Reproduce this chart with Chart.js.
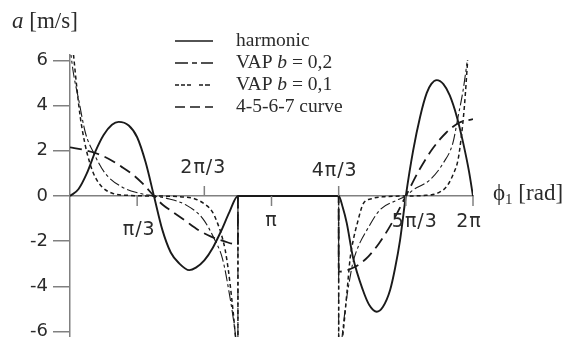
<!doctype html>
<html>

<head>
    <title>Cam acceleration</title>
    <script src="https://cdn.jsdelivr.net/npm/chart.js@4.4.0/dist/chart.umd.min.js"></script>
    <style>
    body { margin: 0; background: #fff; }
    canvas { display: block; }
    </style>
</head>

<body>
    <canvas id="myChart" width="578" height="337"></canvas>
    <script>
    // ---- data (x in rad, y in m/s) ----
    var xTickValues = [Math.PI / 3, 2 * Math.PI / 3, Math.PI, 4 * Math.PI / 3, 5 * Math.PI / 3, 2 * Math.PI];
    var xTickLabels = ['π/3', '2π/3', 'π', '4π/3', '5π/3', '2π'];
    var yTickValues = [-6, -4, -2, 0, 2, 4, 6];

    var harmonicX = [0, 0.131, 0.262, 0.393, 0.524, 0.654, 0.759, 0.916, 1.047, 1.178, 1.309,
        1.44, 1.571, 1.702, 1.859, 1.963, 2.094, 2.225, 2.356, 2.487, 2.618, 4.189,
        4.252, 4.315, 4.411, 4.566, 4.671, 4.782, 4.88, 4.991, 5.068, 5.146,
        5.236, 5.349, 5.458, 5.561, 5.634, 5.718, 5.822, 5.921, 6.032, 6.13, 6.22, 6.283];
    var harmonicY = [0, 0.3, 1.0, 1.95, 2.7, 3.15, 3.28, 3.12, 2.6, 1.5, 0,
        -1.5, -2.5, -2.98, -3.28, -3.17, -2.85, -2.3, -1.55, -0.7, 0, 0,
        -0.5, -1.2, -2.7, -4.16, -4.85, -5.12, -4.9, -4.16, -3.2, -1.95,
        0, 2.0, 3.5, 4.55, 4.96, 5.13, 4.95, 4.45, 3.5, 2.35, 1.1, 0];

    var vap02X = [0, 0.05, 0.136, 0.24, 0.37, 0.55, 0.81, 1.07, 1.309, 1.55,
        1.81, 2.07, 2.25, 2.38, 2.48, 2.55, 2.6, 2.618, 2.6185, 4.1885,
        4.189, 4.24, 4.3, 4.36, 4.41, 4.5, 4.63, 4.83, 5.1, 5.236,
        5.35, 5.61, 5.82, 5.97, 6.05, 6.13, 6.19];
    var vap02Y = [6.6, 5.5, 4.25, 2.8, 1.9, 1.0, 0.4, 0.13, 0, -0.13,
        -0.4, -1.0, -1.9, -2.8, -4.25, -5.5, -6.6, -7, 0, 0,
        -8, -6.3, -4.8, -3.7, -2.96, -2.2, -1.5, -0.62, -0.18, 0,
        0.27, 0.71, 1.46, 2.35, 3.5, 4.7, 5.9];

    var vap01X = [0, 0.06, 0.11, 0.16, 0.23, 0.31, 0.39, 0.5, 0.65, 0.9,
        1.309, 1.7, 1.95, 2.12, 2.22, 2.3, 2.36, 2.42, 2.47, 2.52,
        2.56, 2.6, 2.618, 2.6185, 4.1885, 4.189, 4.21, 4.26, 4.32, 4.37,
        4.42, 4.48, 4.57, 4.7, 4.9, 5.236, 5.55, 5.75, 5.88, 5.98,
        6.05, 6.1, 6.15, 6.2];
    var vap01Y = [7.8, 6.1, 4.7, 3.5, 2.35, 1.45, 0.85, 0.4, 0.13, 0.03,
        0, -0.03, -0.13, -0.4, -0.7, -1.2, -1.7, -2.4, -3.3, -4.5,
        -5.6, -7, -7.8, 0, 0, -8, -7.2, -6.0, -4.2, -2.7,
        -1.9, -1.2, -0.35, -0.12, -0.03, 0, 0.03, 0.15, 0.45, 1.0,
        1.6, 2.6, 4.0, 6.0];

    var curve4567X = [0, 0.2, 0.4, 0.6, 0.8, 1.0, 1.15, 1.309, 1.45, 1.6, 1.8, 2.0, 2.2, 2.4,
        2.618, 2.6185, 4.1885, 4.189, 4.398, 4.608, 4.817, 5.027, 5.236, 5.445, 5.655, 5.864, 6.074, 6.283];
    var curve4567Y = [2.15, 2.05, 1.9, 1.65, 1.3, 0.9, 0.5, 0, -0.4, -0.7, -1.1, -1.5, -1.8, -2.0,
        -2.15, 0, 0, -3.35, -3.2, -2.8, -2.1, -1.15, 0, 1.15, 2.1, 2.8, 3.25, 3.4];

    // ---- styles ----
    var lineColor = '#1a1a1a';
    var axisColor = '#808080';
    var textColor = '#2b2b2b';
    var serif = '"Liberation Serif", "DejaVu Serif", serif';
    var sans = '"DejaVu Sans", sans-serif';

    function pts(xs, ys) {
        return xs.map(function(x, i) { return { x: x, y: ys[i] }; });
    }

    // x tick marks and labels, some above and some below the axis
    var xTickStyle = [
        { up: false, dx: 2, dy: 39 },
        { up: true, dx: -1, dy: -23 },
        { up: false, dx: 0, dy: 30 },
        { up: true, dx: -4, dy: -20 },
        { up: false, dx: 9, dy: 31 },
        { up: false, dx: -4, dy: 31 }
    ];

    var xAxisMarks = {
        id: 'xAxisMarks',
        afterDraw: function(chart) {
            var ctx = chart.ctx, xs = chart.scales.x, ys = chart.scales.y;
            var y0 = ys.getPixelForValue(0);
            ctx.save();
            ctx.strokeStyle = axisColor;
            ctx.lineWidth = 1.5;
            ctx.fillStyle = textColor;
            ctx.font = '19px ' + sans;
            ctx.letterSpacing = '1px';
            ctx.textAlign = 'center';
            ctx.textBaseline = 'alphabetic';
            xTickValues.forEach(function(v, i) {
                var px = xs.getPixelForValue(v), st = xTickStyle[i];
                ctx.beginPath();
                ctx.moveTo(px, y0);
                ctx.lineTo(px, st.up ? y0 - 10 : y0 + 10);
                ctx.stroke();
                ctx.fillText(xTickLabels[i], px + st.dx, y0 + st.dy);
            });
            ctx.letterSpacing = '0px';

            // axis titles
            ctx.textAlign = 'left';
            ctx.font = 'italic 23px ' + serif;
            ctx.fillText('a', 12, 28);
            var w = ctx.measureText('a').width;
            ctx.font = '23px ' + serif;
            ctx.fillText(' [m/s]', 12 + w, 28);

            var tx = 493, ty = y0 + 4;
            ctx.fillText('ϕ', tx, ty);
            tx += ctx.measureText('ϕ').width;
            ctx.font = '15px ' + serif;
            ctx.fillText('1', tx, ty + 4);
            tx += ctx.measureText('1').width;
            ctx.font = '23px ' + serif;
            ctx.fillText(' [rad]', tx, ty);
            ctx.restore();
        }
    };

    // legend drawn by hand: short line sample + text (b in italics)
    var legendRows = {
        id: 'legendRows',
        afterDraw: function(chart) {
            var ctx = chart.ctx;
            ctx.save();
            chart.data.datasets.forEach(function(ds, i) {
                var y = 41 + i * 22;
                ctx.strokeStyle = lineColor;
                ctx.lineWidth = 1.6;
                ctx.setLineDash(ds.legendDash);
                ctx.beginPath();
                ctx.moveTo(175, y);
                ctx.lineTo(213, y);
                ctx.stroke();
                ctx.setLineDash([]);
                ctx.fillStyle = textColor;
                var x = 236;
                ds.labelParts.forEach(function(p) {
                    ctx.font = (p.it ? 'italic ' : '') + '19.5px ' + serif;
                    ctx.fillText(p.t, x, y + 5);
                    x += ctx.measureText(p.t).width;
                });
            });
            ctx.restore();
        }
    };

    function drawGraph() {
        var ctx = document.getElementById('myChart').getContext('2d');
        var chart = new Chart(ctx, {
            type: 'line',
            data: {
                datasets: [{
                    label: 'harmonic',
                    labelParts: [{ t: 'harmonic' }],
                    data: pts(harmonicX, harmonicY),
                    borderColor: lineColor,
                    borderWidth: 1.9,
                    borderDash: [],
                    legendDash: []
                }, {
                    label: 'VAP b = 0,2',
                    labelParts: [{ t: 'VAP ' }, { t: 'b', it: true }, { t: ' = 0,2' }],
                    data: pts(vap02X, vap02Y),
                    borderColor: lineColor,
                    borderWidth: 1.1,
                    borderDash: [11, 3, 3, 3],
                    legendDash: [13, 4, 5, 4]
                }, {
                    label: 'VAP b = 0,1',
                    labelParts: [{ t: 'VAP ' }, { t: 'b', it: true }, { t: ' = 0,1' }],
                    data: pts(vap01X, vap01Y),
                    borderColor: lineColor,
                    borderWidth: 1.5,
                    borderDash: [4, 3],
                    legendDash: [4, 2, 4, 2, 4, 8, 4, 2, 5, 20]
                }, {
                    label: '4-5-6-7 curve',
                    labelParts: [{ t: '4-5-6-7 curve' }],
                    data: pts(curve4567X, curve4567Y),
                    borderColor: lineColor,
                    borderWidth: 1.8,
                    borderDash: [12, 6],
                    legendDash: [10, 5]
                }]
            },
            options: {
                responsive: false,
                animation: false,
                devicePixelRatio: 1,
                layout: { padding: { left: 0, right: 105, top: 55, bottom: 0 } },
                elements: {
                    point: { radius: 0 },
                    line: { cubicInterpolationMode: 'monotone', fill: false }
                },
                plugins: {
                    legend: { display: false },
                    tooltip: { enabled: false }
                },
                scales: {
                    x: {
                        type: 'linear',
                        min: 0,
                        max: 2 * Math.PI,
                        position: { y: 0 },
                        ticks: { display: false },
                        grid: { display: false },
                        border: { display: true, color: axisColor, width: 1.5 }
                    },
                    y: {
                        type: 'linear',
                        min: -6.24,
                        max: 6.24,
                        position: 'left',
                        afterBuildTicks: function(scale) {
                            scale.ticks = yTickValues.map(function(v) { return { value: v }; });
                        },
                        afterFit: function(scale) {
                            scale.width = 70;
                            scale.paddingTop = 0;
                            scale.paddingBottom = 0;
                        },
                        ticks: {
                            color: textColor,
                            padding: 5,
                            font: { family: 'DejaVu Sans', size: 18 },
                            callback: function(v) { return String(v); }
                        },
                        grid: {
                            display: true,
                            drawOnChartArea: false,
                            drawTicks: true,
                            tickLength: 17,
                            color: axisColor,
                            lineWidth: 1.5
                        },
                        border: { display: true, color: axisColor, width: 1.5 }
                    }
                }
            },
            plugins: [xAxisMarks, legendRows]
        });
    }

    window.onload = function() {
        drawGraph();
    };
    </script>
</body>

</html>
